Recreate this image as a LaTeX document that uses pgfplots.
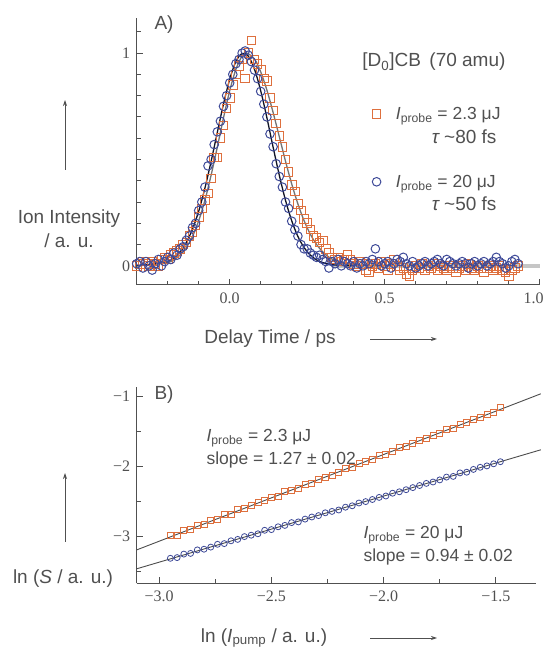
\documentclass[border=0pt]{standalone}
\usepackage{pgfplots}
\pgfplotsset{compat=1.18}
\usepackage{fontspec}
\setmainfont{Liberation Sans}
\newfontfamily\tnr{Liberation Serif}
\usetikzlibrary{arrows.meta}
\definecolor{ora}{RGB}{222,112,62}
\definecolor{blu}{RGB}{62,74,152}
\definecolor{txt}{RGB}{80,80,80}
\newcommand\tf{\fontsize{17.5}{21}\selectfont}
\newcommand\tlf{\fontsize{19}{24}\selectfont}
\newcommand\tkf{\tnr\fontsize{16}{18}\selectfont}
\begin{document}
\begin{tikzpicture}[every node/.style={font=\tf, text=txt}]
\path[use as bounding box] (0pt,0pt) rectangle (544pt,648pt);
% ---------------- Panel A ----------------
\begin{axis}[
  at={(136.7pt,363pt)}, anchor=south west, scale only axis,
  width=403pt, height=267pt,
  xmin=-0.3, xmax=1.0, ymin=-0.09, ymax=1.165,
  axis lines=left, axis line style={-, txt, line width=1pt},
  xtick={0,0.5,1}, xticklabels={0.0,0.5,\hspace*{-12pt}1.0},
  minor xtick={-0.2,-0.1,0.1,0.2,0.3,0.4,0.6,0.7,0.8,0.9},
  ytick={0,1}, yticklabels={0,1},
  minor ytick={0.1,0.2,0.3,0.4,0.5,0.6,0.7,0.8,0.9,1.1},
  tick align=inside, major tick length=6pt, minor tick length=4pt,
  tick style={txt, line width=1pt},
  ticklabel style={font=\tkf, text=txt},
  xticklabel style={yshift=-4pt}, yticklabel style={xshift=-3pt},
  clip=false,
  legend style={draw=none, fill=none, inner sep=0pt, outer sep=0pt,
    at={(axis cs:0.46,0.755)}, anchor=north west, row sep=50pt,
    font=\tlf, text=txt, cells={anchor=west},
    /tikz/every odd column/.append style={column sep=13pt}},
]
\addplot[gray!45, line width=3.5pt, forget plot] coordinates {(0.33,0) (1.0,0)};
\addplot[only marks, mark=square, mark size=4.3pt, mark options={ora, line width=1pt}] coordinates {
(-0.30,0.00)(-0.29,0.01)(-0.28,0.02)(-0.27,0.01)(-0.26,0.00)(-0.25,0.02)(-0.24,0.01)(-0.23,0.00)(-0.22,0.03)(-0.21,0.04)
(-0.20,0.03)(-0.19,0.05)(-0.18,0.06)(-0.17,0.07)(-0.16,0.08)(-0.15,0.10)(-0.14,0.11)(-0.13,0.14)(-0.12,0.16)(-0.11,0.19)
(-0.10,0.23)(-0.09,0.27)(-0.08,0.31)(-0.07,0.34)(-0.06,0.41)(-0.05,0.51)(-0.04,0.51)(-0.03,0.60)(-0.02,0.66)(-0.01,0.74)
(0.00,0.79)(0.01,0.85)(0.02,0.90)(0.03,0.94)(0.04,0.97)(0.05,0.88)(0.06,1.00)(0.07,1.06)(0.08,0.97)(0.09,0.95)
(0.10,0.92)(0.11,0.88)(0.12,0.87)(0.13,0.79)(0.14,0.73)(0.15,0.67)(0.16,0.61)(0.17,0.56)(0.18,0.50)(0.19,0.44)
(0.20,0.38)(0.21,0.35)(0.22,0.29)(0.23,0.26)(0.24,0.22)(0.25,0.20)(0.26,0.17)(0.27,0.14)(0.28,0.13)(0.29,0.11)
(0.30,0.12)(0.31,0.08)(0.32,0.06)(0.33,0.04)(0.34,0.03)(0.35,0.04)(0.36,0.02)(0.37,0.03)(0.38,0.05)(0.39,0.03)
(0.40,0.01)(0.41,0.00)(0.42,0.02)(0.43,0.01)(0.44,-0.02)(0.45,-0.03)(0.46,0.00)(0.47,0.01)(0.48,-0.01)(0.49,0.02)
(0.50,0.00)(0.51,-0.02)(0.52,0.01)(0.53,0.03)(0.54,0.00)(0.55,-0.02)(0.56,-0.01)(0.57,-0.04)(0.58,-0.05)(0.59,-0.02)
(0.60,0.00)(0.61,-0.01)(0.62,0.01)(0.63,-0.02)(0.64,0.00)(0.65,-0.01)(0.66,0.01)(0.67,-0.02)(0.68,0.00)(0.69,-0.01)
(0.70,-0.02)(0.71,0.00)(0.72,-0.01)(0.73,-0.03)(0.74,-0.01)(0.75,0.00)(0.76,-0.02)(0.77,0.01)(0.78,-0.01)(0.79,-0.02)
(0.80,0.00)(0.81,-0.01)(0.82,-0.03)(0.83,-0.01)(0.84,0.00)(0.85,-0.02)(0.86,-0.01)(0.87,0.00)(0.88,-0.02)(0.89,-0.03)
(0.90,-0.05)(0.91,-0.02)(0.92,-0.01)(0.93,0.00)};
\addlegendentry{{\itshape I}\textsubscript{probe} = 2.3 μJ}
\addplot[only marks, mark=o, mark size=4.3pt, mark options={blu, line width=1pt}] coordinates {
(-0.30,0.01)(-0.29,0.02)(-0.28,-0.01)(-0.27,0.02)(-0.26,0.00)(-0.25,-0.02)(-0.24,0.01)(-0.23,0.03)(-0.22,0.00)(-0.21,0.02)
(-0.20,0.04)(-0.19,0.03)(-0.18,0.06)(-0.17,0.05)(-0.16,0.08)(-0.15,0.09)(-0.14,0.12)(-0.13,0.14)(-0.12,0.18)(-0.11,0.20)
(-0.10,0.26)(-0.09,0.30)(-0.08,0.37)(-0.07,0.47)(-0.06,0.50)(-0.05,0.57)(-0.04,0.63)(-0.03,0.68)(-0.02,0.75)(-0.01,0.80)
(0.00,0.86)(0.01,0.90)(0.02,0.95)(0.03,0.97)(0.04,1.00)(0.05,1.01)(0.06,0.99)(0.07,0.96)(0.08,0.92)(0.09,0.88)
(0.10,0.82)(0.11,0.76)(0.12,0.70)(0.13,0.62)(0.14,0.56)(0.15,0.48)(0.16,0.42)(0.17,0.37)(0.18,0.30)(0.19,0.27)
(0.20,0.21)(0.21,0.17)(0.22,0.14)(0.23,0.10)(0.24,0.08)(0.25,0.08)(0.26,0.06)(0.27,0.05)(0.28,0.04)(0.29,0.05)
(0.30,0.03)(0.31,0.02)(0.32,-0.01)(0.33,0.02)(0.34,0.01)(0.35,0.03)(0.36,0.00)(0.37,0.02)(0.38,0.01)(0.39,0.00)
(0.40,0.02)(0.41,-0.01)(0.42,0.01)(0.43,0.00)(0.44,0.02)(0.45,0.01)(0.46,0.03)(0.47,0.08)(0.48,0.02)(0.49,0.00)
(0.50,0.01)(0.51,0.02)(0.52,-0.01)(0.53,0.01)(0.54,0.03)(0.55,0.02)(0.56,0.04)(0.57,0.01)(0.58,0.00)(0.59,0.02)
(0.60,-0.01)(0.61,0.00)(0.62,0.01)(0.63,0.02)(0.64,0.00)(0.65,0.01)(0.66,0.02)(0.67,0.03)(0.68,0.01)(0.69,0.00)
(0.70,0.03)(0.71,0.02)(0.72,0.01)(0.73,0.00)(0.74,0.01)(0.75,0.02)(0.76,0.01)(0.77,-0.01)(0.78,0.01)(0.79,0.02)
(0.80,0.00)(0.81,0.01)(0.82,0.02)(0.83,0.00)(0.84,0.01)(0.85,0.02)(0.86,0.04)(0.87,0.02)(0.88,0.01)(0.89,-0.01)
(0.90,0.00)(0.91,0.02)(0.92,0.03)(0.93,0.01)};
\addlegendentry{{\itshape I}\textsubscript{probe} = 20 μJ}
% fits
\addplot[black!55, line width=1.3pt, smooth, forget plot] coordinates {
(-0.30,0.00)(-0.20,0.015)(-0.16,0.051)(-0.14,0.086)(-0.12,0.138)(-0.10,0.212)(-0.08,0.308)(-0.06,0.426)(-0.04,0.558)
(-0.02,0.696)(0.00,0.823)(0.02,0.924)(0.04,0.986)(0.055,1.0)(0.08,0.972)(0.10,0.912)(0.12,0.826)(0.14,0.721)(0.16,0.607)
(0.18,0.492)(0.20,0.385)(0.22,0.291)(0.24,0.212)(0.26,0.149)(0.28,0.101)(0.30,0.066)(0.32,0.041)(0.34,0.025)(0.38,0.008)(0.42,0.002)(0.50,0.0)};
\addplot[black!75!blu, line width=1.3pt, smooth, forget plot] coordinates {
(-0.30,0.00)(-0.20,0.021)(-0.16,0.066)(-0.14,0.110)(-0.12,0.172)(-0.10,0.257)(-0.08,0.365)(-0.06,0.491)(-0.04,0.627)
(-0.02,0.761)(0.00,0.877)(0.02,0.961)(0.04,0.998)(0.06,0.986)(0.08,0.924)(0.10,0.823)(0.12,0.696)(0.14,0.558)(0.16,0.426)
(0.18,0.308)(0.20,0.212)(0.22,0.138)(0.24,0.086)(0.26,0.051)(0.28,0.028)(0.30,0.015)(0.34,0.004)(0.40,0.0)};
\end{axis}
% ---------------- Panel B ----------------
\begin{axis}[
  at={(136.7pt,64.5pt)}, anchor=south west, scale only axis,
  width=399.6pt, height=196.7pt,
  xmin=-3.1, xmax=-1.32, ymin=-3.67, ymax=-0.86,
  axis lines=left, axis line style={-, txt, line width=1pt},
  xtick={-3,-2.5,-2,-1.5}, xticklabels={−3.0,−2.5,−2.0,−1.5},
  minor xtick={-2.75,-2.25,-1.75},
  ytick={-3,-2,-1}, yticklabels={−3,−2,−1},
  minor ytick={-3.5,-2.5,-1.5},
  tick align=inside, major tick length=6pt, minor tick length=4pt,
  tick style={txt, line width=1pt},
  ticklabel style={font=\tkf, text=txt},
  xticklabel style={yshift=-4pt}, yticklabel style={xshift=-3pt},
  clip=false,
]
\addplot[only marks, mark=square, mark size=3pt, mark options={ora, line width=0.8pt}] coordinates {
(-2.95,-2.99)(-2.92,-2.98)(-2.89,-2.91)(-2.86,-2.90)(-2.83,-2.84)(-2.80,-2.83)(-2.77,-2.77)(-2.74,-2.75)(-2.71,-2.69)(-2.68,-2.68)
(-2.65,-2.61)(-2.62,-2.60)(-2.59,-2.56)(-2.56,-2.51)(-2.53,-2.49)(-2.50,-2.44)(-2.47,-2.42)(-2.44,-2.36)(-2.41,-2.34)(-2.38,-2.31)
(-2.35,-2.25)(-2.32,-2.24)(-2.29,-2.18)(-2.26,-2.15)(-2.23,-2.12)(-2.20,-2.08)(-2.17,-2.03)(-2.14,-2.01)(-2.11,-1.95)(-2.08,-1.93)
(-2.05,-1.90)(-2.02,-1.84)(-1.99,-1.82)(-1.96,-1.78)(-1.93,-1.73)(-1.90,-1.71)(-1.87,-1.67)(-1.84,-1.62)(-1.81,-1.60)(-1.78,-1.55)
(-1.75,-1.52)(-1.72,-1.47)(-1.69,-1.45)(-1.66,-1.40)(-1.63,-1.37)(-1.60,-1.32)(-1.57,-1.30)(-1.54,-1.25)(-1.51,-1.22)(-1.48,-1.16)};
\addplot[only marks, mark=o, mark size=3pt, mark options={blu, line width=0.8pt}] coordinates {
(-2.95,-3.31)(-2.92,-3.30)(-2.89,-3.25)(-2.86,-3.24)(-2.83,-3.19)(-2.80,-3.18)(-2.77,-3.15)(-2.74,-3.11)(-2.71,-3.10)(-2.68,-3.06)
(-2.65,-3.04)(-2.62,-3.00)(-2.59,-2.98)(-2.56,-2.96)(-2.53,-2.91)(-2.50,-2.90)(-2.47,-2.86)(-2.44,-2.84)(-2.41,-2.80)(-2.38,-2.79)
(-2.35,-2.75)(-2.32,-2.72)(-2.29,-2.70)(-2.26,-2.66)(-2.23,-2.64)(-2.20,-2.62)(-2.17,-2.58)(-2.14,-2.56)(-2.11,-2.52)(-2.08,-2.50)
(-2.05,-2.47)(-2.02,-2.44)(-1.99,-2.42)(-1.96,-2.38)(-1.93,-2.36)(-1.90,-2.33)(-1.87,-2.30)(-1.84,-2.27)(-1.81,-2.24)(-1.78,-2.22)
(-1.75,-2.19)(-1.72,-2.15)(-1.69,-2.14)(-1.66,-2.09)(-1.63,-2.08)(-1.60,-2.04)(-1.57,-2.01)(-1.54,-1.99)(-1.51,-1.96)(-1.48,-1.93)};
\addplot[black!70, line width=0.9pt] coordinates {(-3.1,-3.19) (-1.30,-0.96)};
\addplot[black!70, line width=0.9pt] coordinates {(-3.1,-3.46) (-1.30,-1.76)};
\end{axis}
% ---------------- annotations ----------------
\node[anchor=west, font=\tlf] at (151pt,623pt) {A)};
\node[align=center, font=\tlf] at (69pt,419pt) {Ion Intensity\\/ a. u.};
\draw[txt, line width=0.8pt, -{Stealth[length=6pt,width=4pt]}] (65pt,478pt) -- (65pt,548pt);
\node[font=\tlf] at (270pt,309pt) {Delay Time / ps};
\draw[txt, line width=0.8pt, -{Stealth[length=6pt,width=4pt]}] (370pt,309pt) -- (437pt,309pt);
\node[anchor=east, font=\tlf] at (509pt,586pt) {[D\textsubscript{0}]CB \,(70 amu)};
\node[anchor=east, font=\tlf] at (500pt,511pt) {{\itshape τ} \textasciitilde 80 fs};
\node[anchor=east, font=\tlf] at (500pt,444pt) {{\itshape τ} \textasciitilde 50 fs};
\node[anchor=west, font=\tlf] at (151pt,253pt) {B)};
\node[font=\tlf] at (63pt,69pt) {ln ({\itshape S} / a. u.)};
\draw[txt, line width=0.8pt, -{Stealth[length=6pt,width=4pt]}] (65pt,106pt) -- (65pt,175pt);
\node[font=\tlf] at (264pt,10pt) {ln ({\itshape I}\textsubscript{pump} / a. u.)};
\draw[txt, line width=0.8pt, -{Stealth[length=6pt,width=4pt]}] (370pt,10pt) -- (437pt,10pt);
\node[anchor=west] at (203pt,210pt) {{\itshape I}\textsubscript{probe} = 2.3 μJ};
\node[anchor=west] at (203pt,188pt) {slope = 1.27 ± 0.02};
\node[anchor=west] at (360pt,113pt) {{\itshape I}\textsubscript{probe} = 20 μJ};
\node[anchor=west] at (360pt,91pt) {slope = 0.94 ± 0.02};
\end{tikzpicture}
\end{document}
